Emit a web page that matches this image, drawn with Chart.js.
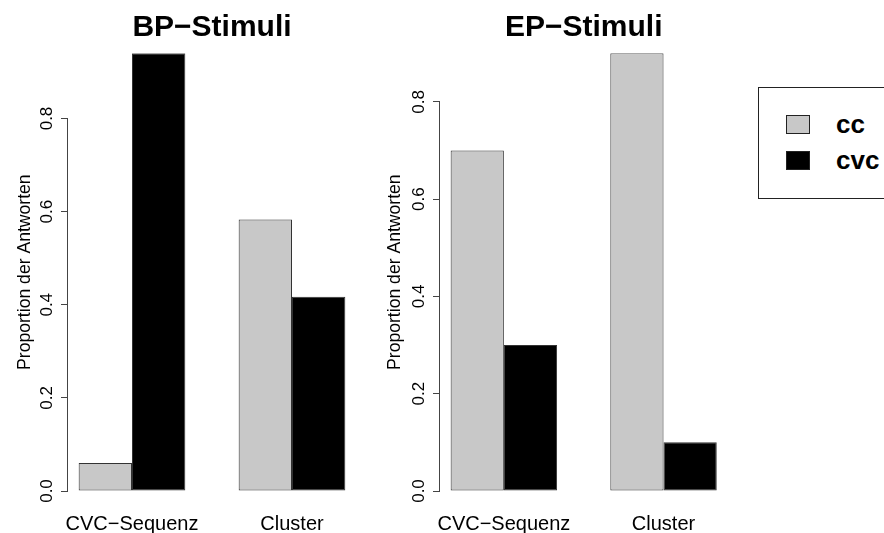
<!DOCTYPE html>
<html>
<head>
<meta charset="utf-8">
<script src="https://cdn.jsdelivr.net/npm/chart.js@4.4.1/dist/chart.umd.min.js"></script>
<style>
  body { margin: 0; width: 884px; height: 533px; overflow: hidden; background: #fff; position: relative;
         font-family: "Liberation Sans", Arial, sans-serif; }
  .panel { position: absolute; top: 0; }
  #legend { position: absolute; left: 758px; top: 87px; width: 160px; height: 112px;
            border: 1.5px solid #222; box-sizing: border-box; }
  .item { position: absolute; left: 27px; height: 21px; display: flex; align-items: center; }
  .swatch { width: 24px; height: 19px; box-sizing: border-box; border: 1.5px solid #222; }
  .item span { margin-left: 26px; font-weight: bold; font-size: 26px; line-height: 21px; color: #000; }
</style>
</head>
<body>
<canvas id="chart1" class="panel" width="370" height="533" style="left:0px"></canvas>
<canvas id="chart2" class="panel" width="370" height="533" style="left:370px"></canvas>
<div id="legend"></div>
<script>
const categories = ["CVC\u2212Sequenz", "Cluster"];
const seriesNames = ["cc", "cvc"];
const seriesColors = ["#C8C8C8", "#000000"];
const yTicks = [0, 0.2, 0.4, 0.6, 0.8];

const bpCc  = [0.06, 0.583];
const bpCvc = [0.94, 0.417];
const epCc  = [0.70, 0.90];
const epCvc = [0.30, 0.10];

const FONT = "'Liberation Sans', Arial, sans-serif";

// R-style y axis line: only from first to last tick
const rAxisLine = {
    id: 'rAxisLine',
    afterDraw(chart) {
        const s = chart.scales.y;
        const ctx = chart.ctx;
        const x = Math.round(s.right) - 0.5;
        ctx.save();
        ctx.strokeStyle = '#444';
        ctx.lineWidth = 1;
        ctx.beginPath();
        ctx.moveTo(x, s.getPixelForValue(s.ticks[0].value) + 0.5);
        ctx.lineTo(x, s.getPixelForValue(s.ticks[s.ticks.length - 1].value));
        ctx.stroke();
        ctx.restore();
    }
};

function makePanel(id, title, cc, cvc, yWidth, padRight) {
    const ymax = Math.max(...cc, ...cvc);
    return new Chart(id, {
        type: "bar",
        data: {
            labels: categories,
            datasets: [cc, cvc].map((d, i) => ({
                label: seriesNames[i],
                data: d,
                backgroundColor: seriesColors[i],
                borderColor: '#333',
                borderWidth: 1,
                borderSkipped: false,
                categoryPercentage: 2 / 3,
                barPercentage: 1
            }))
        },
        options: {
            responsive: false,
            animation: false,
            layout: { padding: { left: 0, right: padRight, top: 0, bottom: 0 } },
            plugins: {
                legend: { display: false },
                tooltip: { enabled: false },
                title: {
                    display: true,
                    text: title,
                    color: '#000',
                    fullSize: false,
                    font: { family: FONT, size: 30, weight: 'bold' },
                    padding: { top: 9.5, bottom: 7.8 }
                }
            },
            scales: {
                x: {
                    grid: { display: false, drawTicks: false },
                    border: { display: false },
                    ticks: { color: '#000', font: { family: FONT, size: 20 }, padding: 21, maxRotation: 0, autoSkip: false },
                    // barplot: groups of 2 bars, gap 1 bar, range [0.8, 6.2] bar units
                    afterBuildTicks: s => { s._startValue = -0.4; s._valueRange = 1.8; },
                    afterFit: s => { s.height = 42; }
                },
                y: {
                    min: 0,
                    max: ymax,
                    bounds: 'data',
                    grid: { drawOnChartArea: false, drawTicks: true, tickLength: 7, color: '#444' },
                    border: { display: false },
                    ticks: {
                        color: '#000',
                        font: { family: FONT, size: 17 },
                        minRotation: 90, maxRotation: 90,
                        crossAlign: 'center',
                        padding: 2,
                        callback: v => Number(v).toFixed(1)
                    },
                    afterBuildTicks: s => { s.ticks = yTicks.map(v => ({ value: v })); },
                    title: {
                        display: true,
                        text: 'Proportion der Antworten',
                        color: '#000',
                        font: { family: FONT, size: 17.6 },
                        padding: { top: 14.5, bottom: 0 }
                    },
                    afterFit: s => { s.width = yWidth; }
                }
            }
        },
        plugins: [rAxisLine]
    });
}

makePanel("chart1", "BP\u2212Stimuli", bpCc, bpCvc, 68, 14);
makePanel("chart2", "EP\u2212Stimuli", epCc, epCvc, 70, 12.6);

// legend
const legend = document.getElementById('legend');
seriesNames.forEach((name, i) => {
    const item = document.createElement('div');
    item.className = 'item';
    item.style.top = (26 + i * 36) + 'px';
    const sw = document.createElement('div');
    sw.className = 'swatch';
    sw.style.background = seriesColors[i];
    const label = document.createElement('span');
    label.textContent = name;
    item.appendChild(sw);
    item.appendChild(label);
    legend.appendChild(item);
});
</script>
</body>
</html>
